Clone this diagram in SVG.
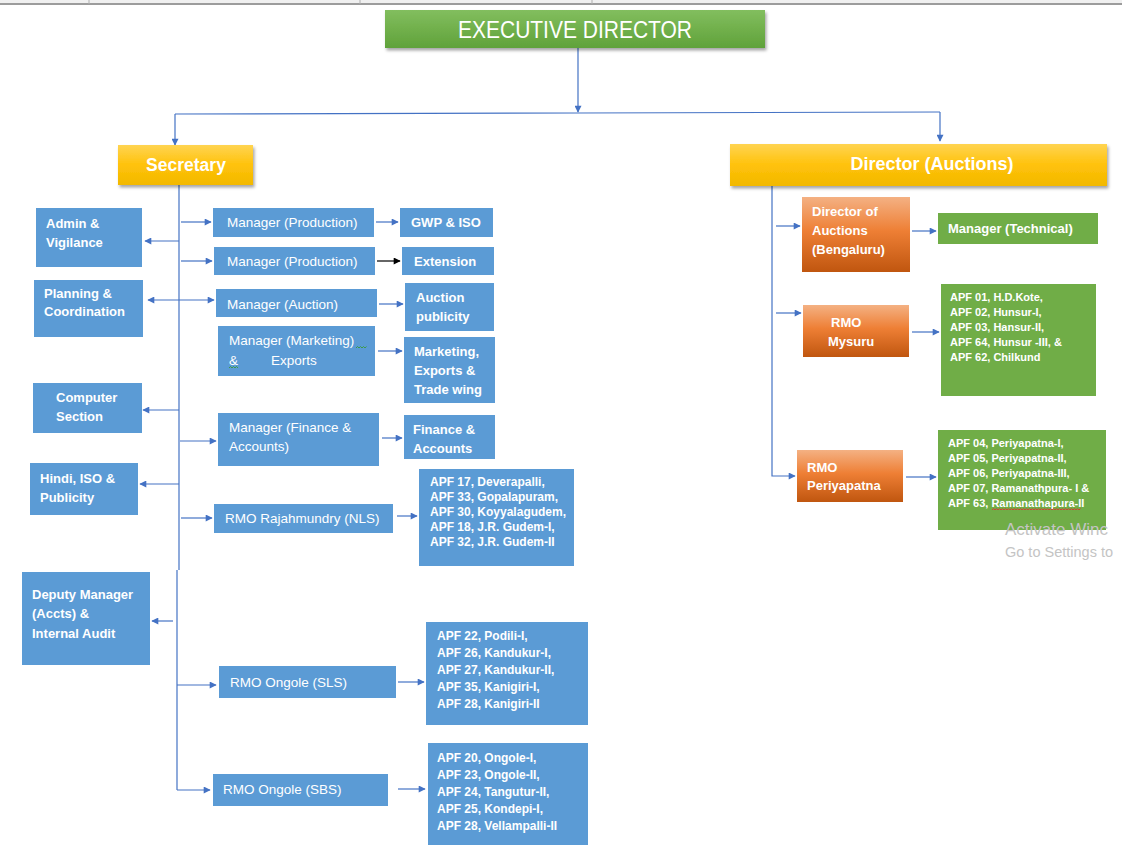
<svg xmlns="http://www.w3.org/2000/svg" width="1140" height="855" viewBox="0 0 1140 855">
<defs>
<linearGradient id="gGreen" x1="0" y1="0" x2="0" y2="1"><stop offset="0" stop-color="#82be5e"/><stop offset="1" stop-color="#60a23a"/></linearGradient>
<linearGradient id="gGold" x1="0" y1="0" x2="0" y2="1"><stop offset="0" stop-color="#ffd452"/><stop offset="0.5" stop-color="#ffc20a"/><stop offset="1" stop-color="#f2b800"/></linearGradient>
<linearGradient id="gOrange" x1="0" y1="0" x2="0" y2="1"><stop offset="0" stop-color="#f4b183"/><stop offset="0.45" stop-color="#ee7f35"/><stop offset="1" stop-color="#c0560f"/></linearGradient>
<filter id="shadow" x="-5%" y="-20%" width="110%" height="150%"><feDropShadow dx="1.5" dy="2.5" stdDeviation="1.5" flood-color="#000" flood-opacity="0.35"/></filter>
<marker id="ah" viewBox="0 0 10 10" refX="9" refY="5" markerWidth="8" markerHeight="7" markerUnits="userSpaceOnUse" orient="auto-start-reverse"><path d="M0,0 L10,5 L0,10 z" fill="#4472c4"/></marker>
<marker id="ahk" viewBox="0 0 10 10" refX="9" refY="5" markerWidth="8" markerHeight="7" markerUnits="userSpaceOnUse" orient="auto"><path d="M0,0 L10,5 L0,10 z" fill="#000"/></marker>
</defs>
<style>
.blue{fill:#5b9bd5}
.grn{fill:#70ad47}
.org{fill:url(#gOrange)}
.t{font-family:"Liberation Sans",Arial,sans-serif;fill:#fff}
.b13{font-size:13px;font-weight:bold}
.r13{font-size:13.5px}
.b12{font-size:12px;font-weight:bold}
.b11{font-size:11px;font-weight:bold}
.c{fill:none;stroke:#4472c4;stroke-width:1.2}
.wm{font-family:"Liberation Sans",Arial,sans-serif;fill:#c4c4c4}
</style>
<rect width="1140" height="855" fill="#fff"/>
<g id="topbar">
<rect x="0" y="0" width="1122" height="3" fill="#f0f0f0"/>
<line x1="0" y1="4" x2="1122" y2="4" stroke="#9c9c9c" stroke-width="2"/>
<line x1="89" y1="0" x2="89" y2="4" stroke="#b0b0b0"/>
<line x1="360" y1="0" x2="360" y2="4" stroke="#b0b0b0"/>
<line x1="592" y1="0" x2="592" y2="4" stroke="#b0b0b0"/>
</g>
<g id="connectors">
<path class="c" d="M578,48 V112" marker-end="url(#ah)"/>
<path class="c" d="M175,114 L578,113 L940,112"/>
<path class="c" d="M175,114 V145" marker-end="url(#ah)"/>
<path class="c" d="M940,112 V141" marker-end="url(#ah)"/>
<path class="c" d="M179,185 V570"/>
<path class="c" d="M177,570 V790" stroke="#8eaadb"/>
<path class="c" d="M179,241 H145" marker-end="url(#ah)"/>
<path class="c" d="M148,300 H214" marker-start="url(#ah)" marker-end="url(#ah)"/>
<path class="c" d="M179,410 H143" marker-end="url(#ah)"/>
<path class="c" d="M179,484 H140" marker-end="url(#ah)"/>
<path class="c" d="M173,621 H152" marker-end="url(#ah)"/>
<path class="c" d="M181,222 H211" marker-end="url(#ah)"/>
<path class="c" d="M181,261 H212" marker-end="url(#ah)"/>
<path class="c" d="M180,441 H216" marker-end="url(#ah)"/>
<path class="c" d="M181,518 H212" marker-end="url(#ah)"/>
<path class="c" d="M177,685 H216" marker-end="url(#ah)"/>
<path class="c" d="M177,790 H210" marker-end="url(#ah)"/>
<path class="c" d="M376,222 H398" marker-end="url(#ah)"/>
<path d="M377,261 H400" fill="none" stroke="#000" stroke-width="1.2" marker-end="url(#ahk)"/>
<path class="c" d="M379,304 H403" marker-end="url(#ah)"/>
<path class="c" d="M378,351 H402" marker-end="url(#ah)"/>
<path class="c" d="M382,438 H402" marker-end="url(#ah)"/>
<path class="c" d="M397,516 H417" marker-end="url(#ah)"/>
<path class="c" d="M398,682 H424" marker-end="url(#ah)"/>
<path class="c" d="M398,789 H425" marker-end="url(#ah)"/>
<path class="c" d="M772,186 V476 H795" marker-end="url(#ah)"/>
<path class="c" d="M776,226 H800" marker-end="url(#ah)"/>
<path class="c" d="M776,313 H801" marker-end="url(#ah)"/>
<path class="c" d="M912,231 H936" marker-end="url(#ah)"/>
<path class="c" d="M912,332 H939" marker-end="url(#ah)"/>
<path class="c" d="M906,477 H936" marker-end="url(#ah)"/>
</g>
<g id="executive-director">
<rect x="385" y="10" width="380" height="38" fill="url(#gGreen)" filter="url(#shadow)"/>
<text class="t" x="575" y="38" font-size="23" text-anchor="middle" textLength="234" lengthAdjust="spacingAndGlyphs">EXECUTIVE DIRECTOR</text>
</g>
<g id="secretary">
<rect x="118" y="145" width="135" height="40" fill="url(#gGold)" filter="url(#shadow)"/>
<text class="t" x="186" y="171" font-size="17.5" font-weight="bold" text-anchor="middle">Secretary</text>
</g>
<g id="director-auctions">
<rect x="730" y="144" width="377" height="42" fill="url(#gGold)" filter="url(#shadow)"/>
<text class="t" x="932" y="170" font-size="18" font-weight="bold" text-anchor="middle">Director (Auctions)</text>
</g>
<g id="admin-vigilance">
<rect class="blue" x="36" y="208" width="106" height="59"/>
<text class="t b13" x="46" y="228">Admin &amp;</text>
<text class="t b13" x="46" y="247">Vigilance</text>
</g>
<g id="planning-coordination">
<rect class="blue" x="34" y="280" width="109" height="57"/>
<text class="t b13" x="44" y="298">Planning &amp;</text>
<text class="t b13" x="44" y="316">Coordination</text>
</g>
<g id="computer-section">
<rect class="blue" x="33" y="383" width="109" height="50"/>
<text class="t b13" x="56" y="402">Computer</text>
<text class="t b13" x="56" y="421">Section</text>
</g>
<g id="hindi-iso">
<rect class="blue" x="30" y="463" width="108" height="52"/>
<text class="t b13" x="40" y="483">Hindi, ISO &amp;</text>
<text class="t b13" x="40" y="502">Publicity</text>
</g>
<g id="deputy-manager">
<rect class="blue" x="22" y="572" width="128" height="93"/>
<text class="t b13" x="32" y="599">Deputy Manager</text>
<text class="t b13" x="32" y="618">(Accts) &amp;</text>
<text class="t b13" x="32" y="638">Internal Audit</text>
</g>
<g id="manager-production-1">
<rect class="blue" x="213" y="208" width="161" height="29"/>
<text class="t r13" x="227" y="227">Manager (Production)</text>
</g>
<g id="gwp-iso">
<rect class="blue" x="400" y="208" width="93" height="29"/>
<text class="t b13" x="411" y="227">GWP &amp; ISO</text>
</g>
<g id="manager-production-2">
<rect class="blue" x="214" y="247" width="161" height="28"/>
<text class="t r13" x="227" y="266">Manager (Production)</text>
</g>
<g id="extension">
<rect class="blue" x="402" y="247" width="92" height="28"/>
<text class="t b13" x="414" y="266">Extension</text>
</g>
<g id="manager-auction">
<rect class="blue" x="216" y="289" width="161" height="28"/>
<text class="t r13" x="227" y="309">Manager (Auction)</text>
</g>
<g id="auction-publicity">
<rect class="blue" x="405" y="283" width="89" height="48"/>
<text class="t b13" x="416" y="302">Auction</text>
<text class="t b13" x="416" y="321">publicity</text>
</g>
<g id="manager-marketing">
<rect class="blue" x="218" y="326" width="157" height="50"/>
<text class="t r13" x="229" y="345">Manager (Marketing)</text>
<text class="t r13" x="229" y="365">&amp;</text>
<text class="t r13" x="271" y="365">Exports</text>
<path d="M356,348 l1.5,-1.5 l1.5,1.5 l1.5,-1.5 l1.5,1.5 l1.5,-1.5 l1.5,1.5 l1.5,-1.5" fill="none" stroke="#3a9a3a" stroke-width="0.9"/>
<path d="M229,368 l1.5,-1.5 l1.5,1.5 l1.5,-1.5 l1.5,1.5 l1.5,-1.5 l1.5,1.5" fill="none" stroke="#3a9a3a" stroke-width="0.9"/>
</g>
<g id="marketing-exports">
<rect class="blue" x="404" y="337" width="91" height="66"/>
<text class="t b13" x="414" y="356">Marketing,</text>
<text class="t b13" x="414" y="375">Exports &amp;</text>
<text class="t b13" x="414" y="394">Trade wing</text>
</g>
<g id="manager-finance">
<rect class="blue" x="218" y="413" width="161" height="53"/>
<text class="t r13" x="229" y="432">Manager (Finance &amp;</text>
<text class="t r13" x="229" y="451">Accounts)</text>
</g>
<g id="finance-accounts">
<rect class="blue" x="404" y="415" width="91" height="44"/>
<text class="t b13" x="413" y="434">Finance &amp;</text>
<text class="t b13" x="413" y="453">Accounts</text>
</g>
<g id="rmo-rajahmundry">
<rect class="blue" x="214" y="504" width="179" height="29"/>
<text class="t r13" x="225" y="523">RMO Rajahmundry (NLS)</text>
</g>
<g id="apf-nls">
<rect class="blue" x="419" y="469" width="155" height="97"/>
<text class="t b12" x="430" y="486">APF 17, Deverapalli,</text>
<text class="t b12" x="430" y="501">APF 33, Gopalapuram,</text>
<text class="t b12" x="430" y="516">APF 30, Koyyalagudem,</text>
<text class="t b12" x="430" y="531">APF 18, J.R. Gudem-I,</text>
<text class="t b12" x="430" y="546">APF 32, J.R. Gudem-II</text>
</g>
<g id="rmo-ongole-sls">
<rect class="blue" x="219" y="666" width="177" height="32"/>
<text class="t r13" x="230" y="687">RMO Ongole (SLS)</text>
</g>
<g id="apf-sls">
<rect class="blue" x="426" y="622" width="162" height="103"/>
<text class="t b12" x="437" y="640">APF 22, Podili-I,</text>
<text class="t b12" x="437" y="657">APF 26, Kandukur-I,</text>
<text class="t b12" x="437" y="674">APF 27, Kandukur-II,</text>
<text class="t b12" x="437" y="691">APF 35, Kanigiri-I,</text>
<text class="t b12" x="437" y="708">APF 28, Kanigiri-II</text>
</g>
<g id="rmo-ongole-sbs">
<rect class="blue" x="213" y="774" width="175" height="32"/>
<text class="t r13" x="223" y="794">RMO Ongole (SBS)</text>
</g>
<g id="apf-sbs">
<rect class="blue" x="428" y="743" width="160" height="102"/>
<text class="t b12" x="437" y="762">APF 20, Ongole-I,</text>
<text class="t b12" x="437" y="779">APF 23, Ongole-II,</text>
<text class="t b12" x="437" y="796">APF 24, Tangutur-II,</text>
<text class="t b12" x="437" y="813">APF 25, Kondepi-I,</text>
<text class="t b12" x="437" y="830">APF 28, Vellampalli-II</text>
</g>
<g id="director-of-auctions-bengaluru">
<rect class="org" x="802" y="197" width="108" height="75"/>
<text class="t b13" x="812" y="216">Director of</text>
<text class="t b13" x="812" y="235">Auctions</text>
<text class="t b13" x="812" y="254">(Bengaluru)</text>
</g>
<g id="manager-technical">
<rect class="grn" x="938" y="213" width="160" height="31"/>
<text class="t b13" x="948" y="233">Manager (Technical)</text>
</g>
<g id="rmo-mysuru">
<rect class="org" x="803" y="305" width="106" height="52"/>
<text class="t b13" x="831" y="327">RMO</text>
<text class="t b13" x="828" y="346">Mysuru</text>
</g>
<g id="apf-mysuru">
<rect class="grn" x="941" y="284" width="155" height="112"/>
<text class="t b11" x="950" y="301">APF 01, H.D.Kote,</text>
<text class="t b11" x="950" y="316">APF 02, Hunsur-I,</text>
<text class="t b11" x="950" y="331">APF 03, Hansur-II,</text>
<text class="t b11" x="950" y="346">APF 64, Hunsur -III, &amp;</text>
<text class="t b11" x="950" y="361">APF 62, Chilkund</text>
</g>
<g id="rmo-periyapatna">
<rect class="org" x="797" y="450" width="106" height="52"/>
<text class="t b13" x="807" y="472">RMO</text>
<text class="t b13" x="807" y="490">Periyapatna</text>
</g>
<g id="apf-periyapatna">
<rect class="grn" x="938" y="430" width="168" height="100"/>
<text class="t b11" x="948" y="447">APF 04, Periyapatna-I,</text>
<text class="t b11" x="948" y="462">APF 05, Periyapatna-II,</text>
<text class="t b11" x="948" y="477">APF 06, Periyapatna-III,</text>
<text class="t b11" x="948" y="492">APF 07, Ramanathpura- I &amp;</text>
<text class="t b11" x="948" y="507">APF 63, Ramanathapura-II</text>
<path d="M992,510 l1.5,-1.5 l1.5,1.5 l1.5,-1.5 l1.5,1.5 l1.5,-1.5 l1.5,1.5 l1.5,-1.5 l1.5,1.5 l1.5,-1.5 l1.5,1.5 l1.5,-1.5 l1.5,1.5 l1.5,-1.5 l1.5,1.5 l1.5,-1.5 l1.5,1.5 l1.5,-1.5 l1.5,1.5 l1.5,-1.5 l1.5,1.5 l1.5,-1.5 l1.5,1.5 l1.5,-1.5 l1.5,1.5 l1.5,-1.5 l1.5,1.5 l1.5,-1.5 l1.5,1.5 l1.5,-1.5 l1.5,1.5 l1.5,-1.5 l1.5,1.5 l1.5,-1.5 l1.5,1.5 l1.5,-1.5 l1.5,1.5 l1.5,-1.5 l1.5,1.5 l1.5,-1.5 l1.5,1.5 l1.5,-1.5 l1.5,1.5 l1.5,-1.5 l1.5,1.5 l1.5,-1.5 l1.5,1.5 l1.5,-1.5 l1.5,1.5 l1.5,-1.5 l1.5,1.5 l1.5,-1.5 l1.5,1.5 l1.5,-1.5 l1.5,1.5 l1.5,-1.5 l1.5,1.5 l1.5,-1.5 l1.5,1.5 l1.5,-1.5" fill="none" stroke="#e03030" stroke-width="0.9"/>
</g>
<g id="watermark">
<text class="wm" x="1005" y="535" font-size="17">Activate Winc</text>
<text class="wm" x="1005" y="557" font-size="14.5">Go to Settings to</text>
</g>
</svg>
